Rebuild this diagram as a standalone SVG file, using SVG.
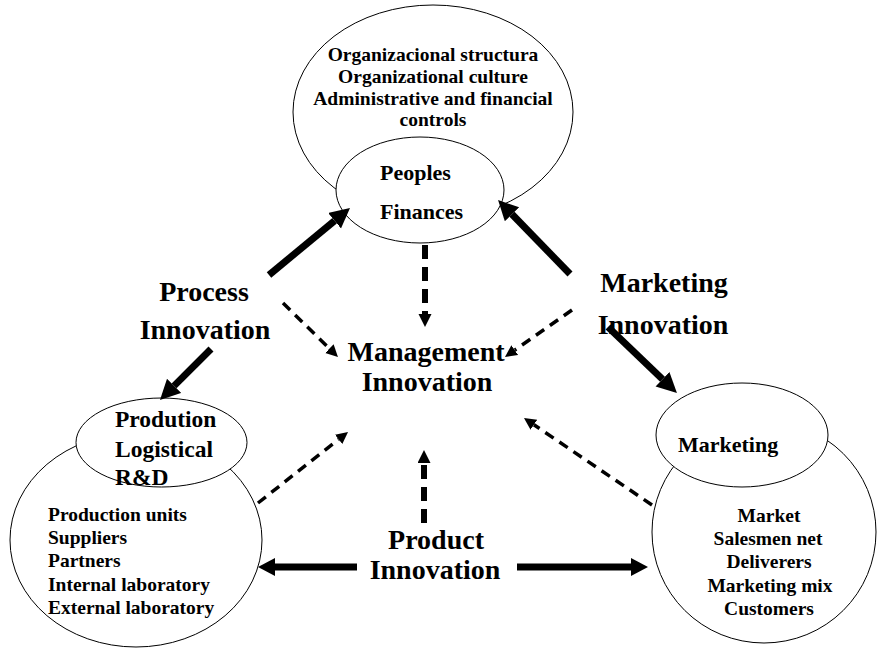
<svg xmlns="http://www.w3.org/2000/svg" width="877" height="650" viewBox="0 0 877 650">
  <style>
    text { font-family: "Liberation Serif", "Times New Roman", serif; font-weight: bold; fill: #000; }
    .big { font-size: 28px; text-anchor: middle; }
    .mid { font-size: 22px; }
    .sm { font-size: 19.5px; }
    .c { text-anchor: middle; }
    .outline { fill: #fff; stroke: #000; stroke-width: 1; }
    .thick { fill: none; stroke: #000; stroke-width: 7; marker-end: url(#headBig); }
    .thickH { fill: none; stroke: #000; stroke-width: 7; marker-end: url(#headH); }
    .dash { fill: none; stroke: #000; stroke-width: 3.5; stroke-dasharray: 10 7; marker-end: url(#headSmall); }
    .dashV { fill: none; stroke: #000; stroke-width: 6; stroke-dasharray: 14 8; marker-end: url(#headV); }
  </style>
  <defs>
    <marker id="headBig" markerUnits="userSpaceOnUse" markerWidth="22" markerHeight="22" refX="0" refY="10" orient="auto">
      <path d="M0,0 L20,10 L0,20 Z" fill="#000"/>
    </marker>
    <marker id="headH" markerUnits="userSpaceOnUse" markerWidth="20" markerHeight="20" refX="0" refY="9" orient="auto">
      <path d="M0,0 L17,9 L0,18 Z" fill="#000"/>
    </marker>
    <marker id="headSmall" markerUnits="userSpaceOnUse" markerWidth="14" markerHeight="14" refX="0" refY="6" orient="auto">
      <path d="M0,0 L12,6 L0,12 Z" fill="#000"/>
    </marker>
    <marker id="headV" markerUnits="userSpaceOnUse" markerWidth="15" markerHeight="15" refX="0" refY="6.5" orient="auto">
      <path d="M0,0 L13,6.5 L0,13 Z" fill="#000"/>
    </marker>
  </defs>

  <rect width="877" height="650" fill="#fff"/>

  <!-- Organisation cluster (top) -->
  <g id="organization">
    <ellipse class="outline" cx="433" cy="112" rx="140" ry="107"/>
    <text class="sm c" x="433" y="61">Organizacional structura</text>
    <text class="sm c" x="433" y="83">Organizational culture</text>
    <text class="sm c" x="433" y="105">Administrative and financial</text>
    <text class="sm c" x="433" y="126">controls</text>
  </g>
  <g id="resources">
    <ellipse class="outline" cx="420" cy="190" rx="84" ry="53"/>
    <text class="mid" x="380" y="180">Peoples</text>
    <text class="mid" x="380" y="219">Finances</text>
  </g>

  <!-- Production cluster (bottom left) -->
  <g id="production-network">
    <ellipse class="outline" cx="136" cy="540" rx="126" ry="107"/>
    <text class="sm" x="48" y="521">Production units</text>
    <text class="sm" x="48" y="544">Suppliers</text>
    <text class="sm" x="48" y="567">Partners</text>
    <text class="sm" x="48" y="590.5">Internal laboratory</text>
    <text class="sm" x="48" y="613.5">External laboratory</text>
  </g>
  <g id="production">
    <ellipse class="outline" cx="161.5" cy="442.5" rx="85.5" ry="44.5"/>
    <text x="115" y="427" style="font-size:23.5px">Prodution</text>
    <text x="115" y="457" style="font-size:23.5px">Logistical</text>
    <text x="115" y="485" style="font-size:23.5px">R&amp;D</text>
  </g>

  <!-- Marketing cluster (bottom right) -->
  <g id="market-network">
    <ellipse class="outline" cx="764" cy="532" rx="112" ry="111"/>
    <text class="sm c" x="769" y="522">Market</text>
    <text class="sm c" x="768" y="545">Salesmen net</text>
    <text class="sm c" x="769" y="568">Deliverers</text>
    <text class="sm c" x="770" y="592">Marketing mix</text>
    <text class="sm c" x="769" y="615">Customers</text>
  </g>
  <g id="marketing">
    <ellipse class="outline" cx="742" cy="435" rx="86" ry="52"/>
    <text class="mid" x="678" y="452">Marketing</text>
  </g>

  <!-- Innovation labels -->
  <g id="process-innovation">
    <text class="big" x="204" y="301">Process</text>
    <text class="big" x="205" y="339">Innovation</text>
  </g>
  <g id="marketing-innovation">
    <text class="big" x="664" y="292">Marketing</text>
    <text class="big" x="663" y="334">Innovation</text>
  </g>
  <g id="management-innovation">
    <text class="big" x="426" y="361">Management</text>
    <text class="big" x="427" y="391">Innovation</text>
  </g>
  <g id="product-innovation">
    <text class="big" x="436" y="549">Product</text>
    <text class="big" x="435" y="579">Innovation</text>
  </g>

  <!-- Connectors -->
  <g id="connectors">
    <path class="thick" d="M269,275 L334.6,220.7"/>
    <path class="thick" d="M570,274 L512,214.3"/>
    <path class="thick" d="M211,349 L174.1,385.9"/>
    <path class="thick" d="M608,327 L662.5,379.2"/>
    <path class="thickH" d="M357,567 L275,567"/>
    <path class="thickH" d="M517,567 L631,567"/>

    <path class="dashV" d="M425,245 L425,314"/>
    <path class="dashV" d="M424,523 L424,463"/>
    <path class="dash" d="M283,303 L329.4,348.6"/>
    <path class="dash" d="M572,310 L514.8,350.1"/>
    <path class="dash" d="M258,503 L338.6,439.4"/>
    <path class="dash" d="M652,505 L533.9,424.7"/>
  </g>
</svg>
